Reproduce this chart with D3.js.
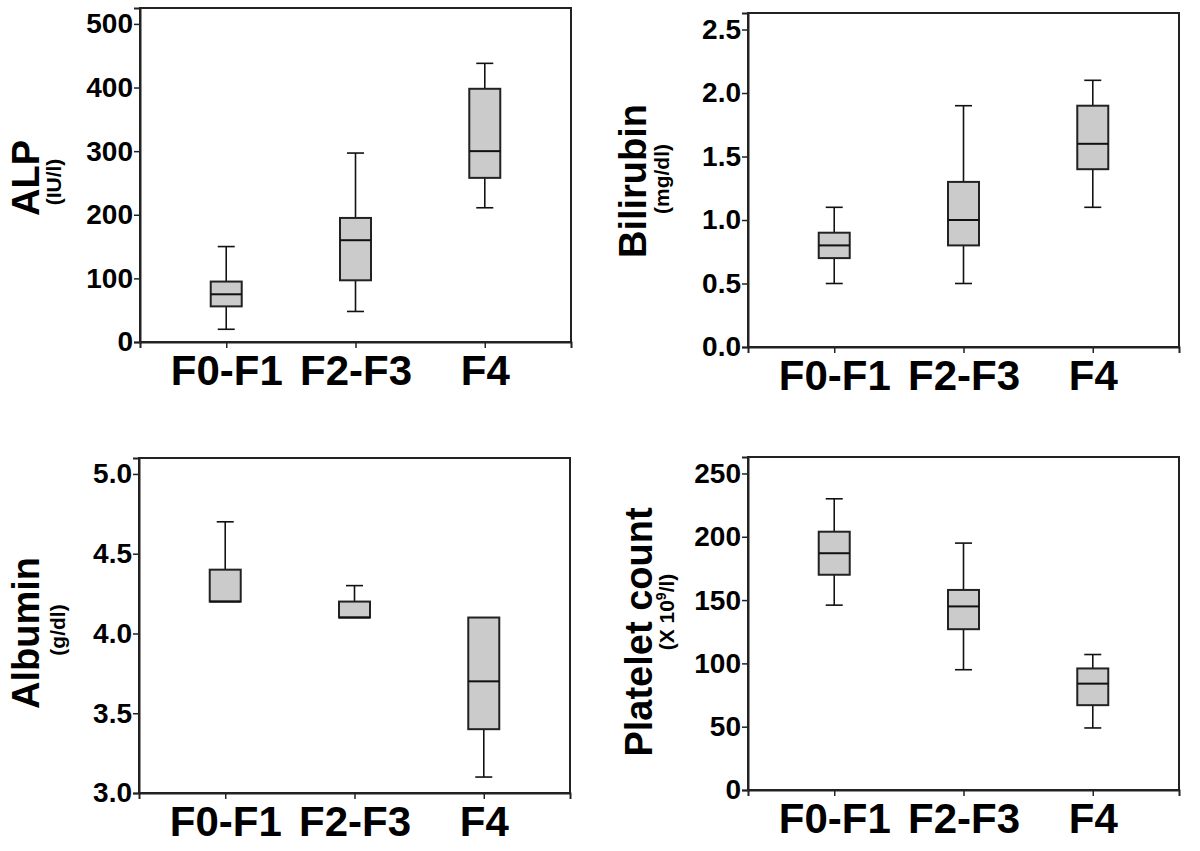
<!DOCTYPE html>
<html>
<head>
<meta charset="utf-8">
<script src="https://cdn.jsdelivr.net/npm/d3@7"></script>
<style>
  html, body { margin: 0; padding: 0; background: #fff; }
  svg { display: block; }
  text { font-family: "Liberation Sans", Arial, sans-serif; }
</style>
</head>
<body>
<svg id="chart" width="1200" height="851"></svg>
<script>
// ---- Data ----
const categories = ["F0-F1", "F2-F3", "F4"];

// each entry: [min, q1, median, q3, max]
const alpStats       = [[20, 56, 75, 95, 150], [48, 97, 160, 195, 297], [211, 258, 300, 398, 438]];
const bilirubinStats = [[0.5, 0.7, 0.8, 0.9, 1.1], [0.5, 0.8, 1.0, 1.3, 1.9], [1.1, 1.4, 1.6, 1.9, 2.1]];
const albuminStats   = [[4.2, 4.2, 4.2, 4.4, 4.7], [4.1, 4.1, 4.1, 4.2, 4.3], [3.1, 3.4, 3.7, 4.1, 4.1]];
const plateletStats  = [[146, 170, 187, 204, 230], [95, 127, 145, 158, 195], [49, 67, 84, 96, 107]];

const alpTicks       = [0, 100, 200, 300, 400, 500];
const bilirubinTicks = [0.0, 0.5, 1.0, 1.5, 2.0, 2.5];
const albuminTicks   = [3.0, 3.5, 4.0, 4.5, 5.0];
const plateletTicks  = [0, 50, 100, 150, 200, 250];

const titles = ["ALP", "Bilirubin", "Albumin", "Platelet count"];
const units  = ["(IU/l)", "(mg/dl)", "(g/dl)", "(X 10|9|/l)"];

// ---- Layout ----
const panels = [
  { stats: alpStats, ticks: alpTicks, domain: [0, 525], fmt: d3.format("d"),
    left: 140, top: 8, right: 571, bottom: 342,
    tx: 39, ty: 178, ux: 61, uy: 182 },
  { stats: bilirubinStats, ticks: bilirubinTicks, domain: [0, 2.63], fmt: d3.format(".1f"),
    left: 748, top: 13, right: 1179, bottom: 347,
    tx: 646, ty: 181, ux: 669, uy: 179 },
  { stats: albuminStats, ticks: albuminTicks, domain: [3.0, 5.1], fmt: d3.format(".1f"),
    left: 139, top: 458, right: 570, bottom: 793,
    tx: 39, ty: 633, ux: 65, uy: 630 },
  { stats: plateletStats, ticks: plateletTicks, domain: [0, 263], fmt: d3.format("d"),
    left: 748, top: 457, right: 1179, bottom: 790,
    tx: 652, ty: 632, ux: 674, uy: 612 }
];

const svg = d3.select("#chart");
const boxW = 31, capW = 17;

panels.forEach((p, i) => {
  const w = p.right - p.left, h = p.bottom - p.top;
  const g = svg.append("g").attr("transform", `translate(${p.left},${p.top})`);
  const x = d3.scalePoint().domain(categories).range([0, w]).padding(0.667);
  const y = d3.scaleLinear().domain(p.domain).range([h, 0]);

  // frame
  g.append("rect").attr("x", 0).attr("y", 0).attr("width", w).attr("height", h)
    .attr("fill", "none").attr("stroke", "#222").attr("stroke-width", 2);

  // y axis
  const ya = g.append("g").call(d3.axisLeft(y).tickValues(p.ticks).tickFormat(p.fmt).tickSize(6).tickPadding(1));
  ya.select(".domain").attr("stroke", "#222").attr("stroke-width", 2);
  ya.selectAll(".tick line").attr("stroke", "#222").attr("stroke-width", 1.5);
  ya.selectAll(".tick text").attr("font-size", 28).attr("font-weight", "bold").attr("fill", "#000")
    .attr("font-family", "Liberation Sans, Arial, sans-serif");

  // x axis
  const xa = g.append("g").attr("transform", `translate(0,${h})`)
    .call(d3.axisBottom(x).tickSize(6).tickPadding(7));
  xa.select(".domain").attr("stroke", "#222").attr("stroke-width", 2);
  xa.selectAll(".tick line").attr("stroke", "#222").attr("stroke-width", 1.5);
  xa.selectAll(".tick text").attr("font-size", 42).attr("font-weight", "bold").attr("fill", "#000")
    .attr("font-family", "Liberation Sans, Arial, sans-serif");

  // boxes
  p.stats.forEach((s, j) => {
    const [mn, q1, md, q3, mx] = s;
    const cx = x(categories[j]);
    const bg = g.append("g");
    if (mx > q3) {
      bg.append("line").attr("x1", cx).attr("x2", cx).attr("y1", y(q3)).attr("y2", y(mx))
        .attr("stroke", "#111").attr("stroke-width", 1.6);
      bg.append("line").attr("x1", cx - capW / 2).attr("x2", cx + capW / 2).attr("y1", y(mx)).attr("y2", y(mx))
        .attr("stroke", "#111").attr("stroke-width", 1.6);
    }
    if (mn < q1) {
      bg.append("line").attr("x1", cx).attr("x2", cx).attr("y1", y(q1)).attr("y2", y(mn))
        .attr("stroke", "#111").attr("stroke-width", 1.6);
      bg.append("line").attr("x1", cx - capW / 2).attr("x2", cx + capW / 2).attr("y1", y(mn)).attr("y2", y(mn))
        .attr("stroke", "#111").attr("stroke-width", 1.6);
    }
    bg.append("rect").attr("x", cx - boxW / 2).attr("y", y(q3)).attr("width", boxW).attr("height", y(q1) - y(q3))
      .attr("fill", "#cbcbcb").attr("stroke", "#222").attr("stroke-width", 2);
    bg.append("line").attr("x1", cx - boxW / 2).attr("x2", cx + boxW / 2).attr("y1", y(md)).attr("y2", y(md))
      .attr("stroke", "#111").attr("stroke-width", 2);
  });

  // title
  svg.append("text").attr("transform", `translate(${p.tx},${p.ty}) rotate(-90)`)
    .attr("text-anchor", "middle").attr("font-size", 38).attr("font-weight", "bold").attr("fill", "#000")
    .text(titles[i]);

  // unit subtitle
  const ut = svg.append("text").attr("transform", `translate(${p.ux},${p.uy}) rotate(-90)`)
    .attr("text-anchor", "middle").attr("font-size", 21).attr("font-weight", "bold").attr("fill", "#000");
  const parts = units[i].split("|");
  if (parts.length === 3) {
    ut.append("tspan").text(parts[0]);
    ut.append("tspan").attr("baseline-shift", "super").attr("font-size", 14).text(parts[1]);
    ut.append("tspan").text(parts[2]);
  } else {
    ut.text(units[i]);
  }
});
</script>
</body>
</html>
